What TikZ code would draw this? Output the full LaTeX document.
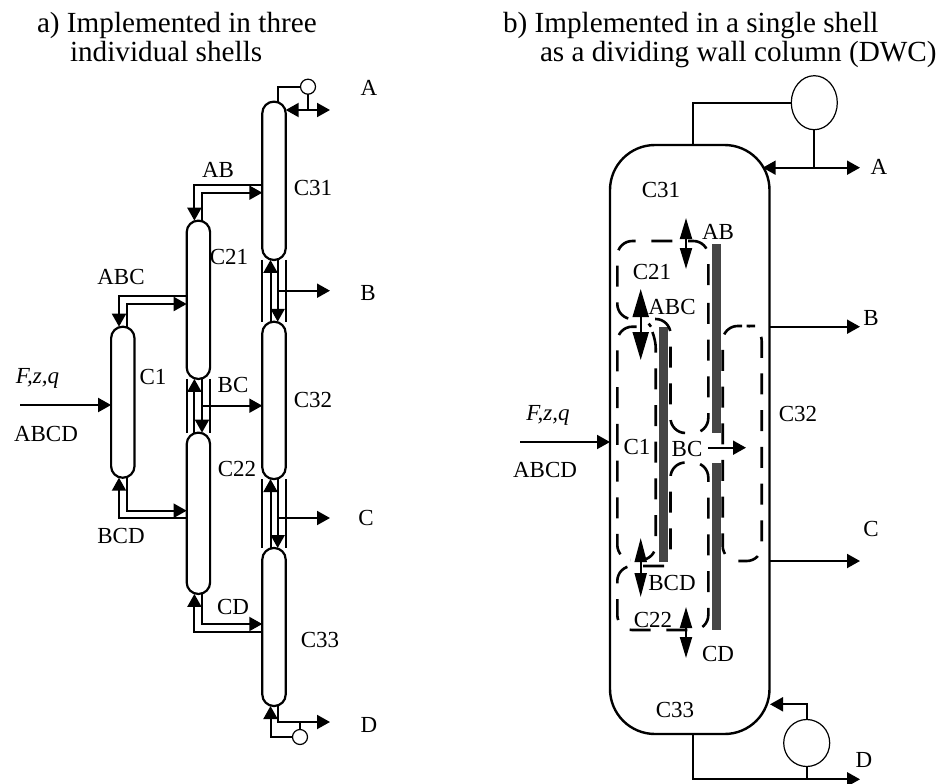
\documentclass[tikz,border=0pt]{standalone}
\usepackage{fontspec}
\setmainfont{Liberation Serif}
\usetikzlibrary{arrows.meta,shapes.geometric}
\begin{document}
\begin{tikzpicture}[x=1pt,y=-1pt,
  every node/.style={font=\fontsize{23}{27}\selectfont,inner sep=0pt,outer sep=0pt},
  titletext/.style={anchor=base west,font=\fontsize{29.2}{33}\selectfont},
  col/.style={draw=black,line width=2.2pt,rounded corners=11.5pt,minimum width=23.4pt},
  pipe/.style={line width=2pt,draw=black},
  flow/.style={pipe,-{Triangle[length=13pt,width=14pt]}},
  rev/.style={pipe,{Triangle[length=13pt,width=14pt]}-{Triangle[length=13pt,width=14pt]}},
  cond/.style={draw=black,fill=white,line width=1.2pt},
  wall/.style={fill=black!73,draw=none,minimum width=9pt},
  zone/.style={draw=black,line width=2.6pt,dash pattern=on 21pt off 15.7pt,rounded corners=15pt},
  split/.style={line width=2pt,draw=black}]
\useasboundingbox (0,0) rectangle (937,784);
% titles
\node[titletext] (ta1) at (37,32.3) {a) Implemented in three};
\node[titletext] (ta2) at (70,61.7) {individual shells};
\node[titletext] (tb1) at (503,32.3) {b) Implemented in a single shell};
\node[titletext] (tb2) at (540,61.7) {as a dividing wall column (DWC)};
% ---------- a) columns
\node[col,minimum height=158.3pt] (c31) at (274,180.8) {};
\node[col,minimum height=157.3pt] (c32) at (274,400.4) {};
\node[col,minimum height=158pt] (c33) at (274,627) {};
\node[col,minimum height=158.3pt] (c21) at (198.4,299.8) {};
\node[col,minimum height=161.3pt] (c22) at (198.4,513.3) {};
\node[col,minimum height=151pt] (c1) at (122.8,402.2) {};
% condensers/reboilers
\node[cond,circle,minimum size=15pt] (cda) at (308,86.7) {};
\node[cond,circle,minimum size=15pt] (rba) at (300,737) {};
% free ends
\coordinate (aA) at (330,110);
\coordinate (aB) at (330,290.7);
\coordinate (aC) at (330,518);
\coordinate (aD) at (330,722);
\coordinate (aF) at (20,405);
% connectors a)
\draw[pipe] (c31.north -| 278,0) |- (cda.west);
\draw[pipe] (cda.south) -- (308,110);
\draw[rev] (c31.east |- aA) -- (aA);
\draw[flow] (c31.west |- 0,185) -| (c21.north -| 194.4,0);
\draw[flow] (c21.north -| 202,0) |- (c31.west |- 0,192.7);
\draw[flow] (c21.west |- 0,296) -| (c1.north -| 119,0);
\draw[flow] (c1.north -| 127.3,0) |- (c21.west |- 0,304);
\draw[flow] (c22.west |- 0,518) -| (c1.south -| 119,0);
\draw[flow] (c1.south -| 127.3,0) |- (c22.west |- 0,510.7);
\draw[flow] (c33.west |- 0,631.7) -| (c22.south -| 194.4,0);
\draw[flow] (c22.south -| 202,0) |- (c33.west |- 0,624);
\draw[flow] (aF) -- (c1.west |- aF);
% inter-column pairs
\draw[pipe] (c31.south west) -- (c32.north west);
\draw[pipe] (c31.south east) -- (c32.north east);
\draw[flow] (c32.north -| 270.5,0) -- (c31.south -| 270.5,0);
\draw[flow] (c31.south -| 277.7,0) -- (c32.north -| 277.7,0);
\draw[flow] (277.7,290.7) -- (aB);
\draw[pipe] (c32.south west) -- (c33.north west);
\draw[pipe] (c32.south east) -- (c33.north east);
\draw[flow] (c33.north -| 270.5,0) -- (c32.south -| 270.5,0);
\draw[flow] (c32.south -| 277.7,0) -- (c33.north -| 277.7,0);
\draw[flow] (277.7,518) -- (aC);
\draw[pipe] (c21.south west) -- (c22.north west);
\draw[pipe] (c21.south east) -- (c22.north east);
\draw[flow] (c22.north -| 194.4,0) -- (c21.south -| 194.4,0);
\draw[flow] (c21.south -| 202,0) -- (c22.north -| 202,0);
\draw[flow] (202,405.7) -- (c32.west |- 0,405.7);
\draw[flow] (c33.south -| 277.7,0) |- (aD);
\draw[pipe] (rba.north) -- (300,722);
\draw[flow] (rba.west) -| (c33.south -| 270.5,0);
% labels a)
\node (la) at (369,88) {A};
\node (lab) at (218,170) {AB};
\node (l31) at (313,188) {C31};
\node (l21) at (229,257) {C21};
\node (labc) at (121,277) {ABC};
\node (lb) at (368,293) {B};
\node (lf) at (37.5,378) {\itshape F,z,q};
\node (l1) at (153,377) {C1};
\node (lbc) at (233,385) {BC};
\node (labcd) at (46,434) {ABCD};
\node (l32) at (313,400) {C32};
\node (l22) at (237,469) {C22};
\node (lc) at (366,518) {C};
\node (lbcd) at (121,536) {BCD};
\node (lcd) at (233,607) {CD};
\node (l33) at (320,640) {C33};
\node (ld) at (369,725) {D};
% ---------- b) shell
\node[draw=black,line width=2.4pt,rounded corners=45pt,minimum width=159.5pt,minimum height=589pt] (shell) at (689.75,439.5) {};
\node[cond,ellipse,minimum width=46pt,minimum height=54pt] (cdb) at (814.3,102.7) {};
\node[cond,ellipse,minimum width=46pt,minimum height=47pt] (rbb) at (806.7,743) {};
\coordinate (bA) at (860,167.7);
\coordinate (bB) at (860,326.7);
\coordinate (bC) at (860,561);
\coordinate (bD) at (860,779.3);
\coordinate (bF) at (520,442);
\coordinate (bT) at (762.7,167.7);
\coordinate (bR) at (770,704.3);
\draw[pipe] (shell.north -| 692.7,0) |- (cdb.west);
\draw[pipe] (cdb.south) -- (814.3,167.7);
\draw[rev] (bT) -- (bA);
\draw[flow] (shell.east |- bB) -- (bB);
\draw[flow] (shell.east |- bC) -- (bC);
\draw[flow] (bF) -- (shell.west |- bF);
\draw[flow] (shell.south -| 692.7,0) |- (bD);
\draw[pipe] (rbb.south) -- (806.7,779.3);
\draw[flow] (rbb.north) |- (bR);
% walls
\node[wall,minimum height=235pt] (w1) at (663.5,444.2) {};
\node[wall,minimum height=188.7pt] (w2) at (716.5,338.4) {};
\node[wall,minimum height=167.3pt] (w3) at (716.5,546.4) {};
% zones
\draw[zone] (655,319) -- (670.5,319) -- (670.5,433) -- (708.3,433) -- (708.3,302);
\draw[zone] (708.3,285) -- (708.3,241) -- (617.3,241) -- (617.3,319) -- (633,319);
\draw[zone] (636.7,326.7) -- (617.3,326.7) -- (617.3,560) -- (630,560);
\draw[zone] (645,560) -- (655.7,560) -- (655.7,333) -- (651,326.7);
\draw[zone] (664,566) -- (617.3,566) -- (617.3,630) -- (708.3,630) -- (708.3,462.5) -- (670.5,462.5) -- (670.5,552);
\draw[zone] (742,326) -- (722.7,326) -- (722.7,561) -- (761.7,561) -- (761.7,326) -- (755,326);
% two-way streams
\coordinate (s1u) at (686,218); \coordinate (s1d) at (686,269);
\coordinate (s2u) at (640.7,289); \coordinate (s2d) at (640.7,360);
\coordinate (s3u) at (640.7,538); \coordinate (s3d) at (640.7,597);
\coordinate (s4u) at (686,607); \coordinate (s4d) at (686,658);
\draw[split,{Triangle[length=21pt,width=12pt]}-{Triangle[length=21pt,width=12pt]}] (s1u) -- (s1d);
\draw[split,{Triangle[length=28pt,width=16pt]}-{Triangle[length=28pt,width=16pt]}] (s2u) -- (s2d);
\draw[split,{Triangle[length=24pt,width=12pt]}-{Triangle[length=24pt,width=12pt]}] (s3u) -- (s3d);
\draw[split,{Triangle[length=21pt,width=12pt]}-{Triangle[length=21pt,width=12pt]}] (s4u) -- (s4d);
\coordinate (bcs) at (708,447.7); \coordinate (bce) at (746,447.7);
\draw[flow] (bcs) -- (bce);
% labels b)
\node (ma) at (879,167) {A};
\node (mb) at (871,318) {B};
\node (mc) at (871,529) {C};
\node (md) at (864,760) {D};
\node (m31) at (661,190) {C31};
\node (m33) at (675,710) {C33};
\node (m32) at (798,414) {C32};
\node (mab) at (718,232) {AB};
\node (m21) at (652,272) {C21};
\node (mabc) at (672,307) {ABC};
\node (m1) at (637,447) {C1};
\node (mbc) at (687,449) {BC};
\node (mbcd) at (672,583) {BCD};
\node (m22) at (653,620) {C22};
\node (mcd) at (718,654) {CD};
\node (mf) at (548,415) {\itshape F,z,q};
\node (mabcd) at (545,470) {ABCD};
\end{tikzpicture}
\end{document}
